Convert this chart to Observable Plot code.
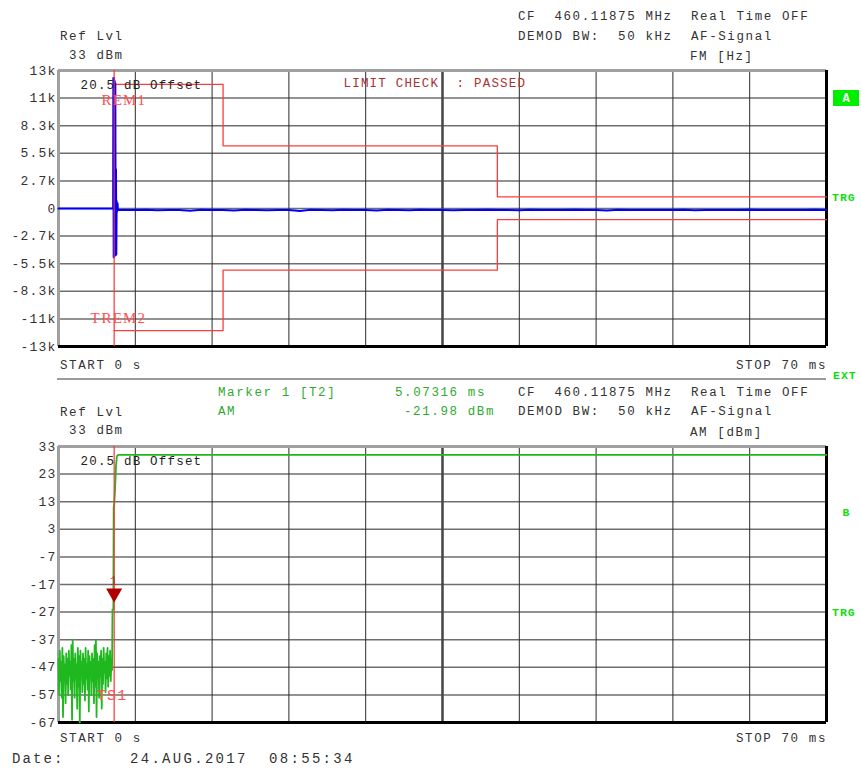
<!DOCTYPE html>
<html><head><meta charset="utf-8">
<script src="https://cdn.jsdelivr.net/npm/d3@7"></script>
<script src="https://cdn.jsdelivr.net/npm/@observablehq/plot@0.6"></script>
<style>
body{margin:0;background:#fff;}
#wrap{position:relative;width:861px;height:769px;overflow:hidden;background:#fff;}
#wrap svg{position:absolute;left:0;}
</style></head><body><div id="wrap"></div>
<script>
// ---------- data ----------
const timeDomain = [0, 70];                       // ms
const xGridTimes = [0, 7, 14, 21, 28, 35, 42, 49, 56, 63, 70];
const fmTickValues = [13000, 10400, 7800, 5200, 2600, 0, -2600, -5200, -7800, -10400, -13000];
const fmTickLabels = ["13k", "11k", "8.3k", "5.5k", "2.7k", "0", "-2.7k", "-5.5k", "-8.3k", "-11k", "-13k"];
const amTickValues = [33, 23, 13, 3, -7, -17, -27, -37, -47, -57, -67];
const amTickLabels = ["33", "23", "13", "3", "-7", "-17", "-27", "-37", "-47", "-57", "-67"];

// FM trace (Hz): burst around trigger, then near zero
const fmBurstTime  = [0, 4.98, 5.0, 5.03, 5.06, 5.09, 5.12, 5.15, 5.18, 5.21, 5.24, 5.27, 5.3, 5.34, 5.38, 5.42];
const fmBurstValue = [0, 0, 12300, -4600, 12300, -4500, 12000, -4400, 11800, -4400, 3700, -4300, 700, -300, 500, -150];
const fmTailValue = [-130,-150,-120,-170,-130,-140,-220,-120,-150,-130,-190,-120,-140,-160,-130,-140,-230,-120,-140,-160,
  -120,-150,-130,-180,-120,-140,-160,-120,-140,-130,-170,-130,-150,-120,-140,-130,-160,-120,-140,-130,
  -150,-120,-140,-130,-180,-120,-140,-130,-150,-130,-140,-120,-170,-130,-140,-130,-150,-120,-140,-130,
  -150,-130,-140,-120,-130];   // one sample per ms from 6 ms

// limit lines (Hz)
const upperLimitTime  = [5.07, 15, 15, 40, 40, 70];
const upperLimitValue = [11700, 11700, 5900, 5900, 1100, 1100];
const lowerLimitTime  = [5.07, 15, 15, 40, 40, 70];
const lowerLimitValue = [-11500, -11500, -5800, -5800, -1050, -1050];

// AM trace (dBm): noise before trigger, then carrier
const amNoiseValue = [-44,-57,-41,-52,-45,-58,-40,-65,-43,-51,
  -46,-60,-42,-53,-44,-57,-41,-50,-45,-55,
  -39,-66,-37,-52,-44,-58,-42,-50,-46,-62,
  -40,-54,-43,-67,-41,-49,-45,-56,-42,-53,
  -44,-59,-40,-51,-46,-55,-41,-63,-43,-50,
  -45,-57,-42,-52,-44,-60,-39,-54,-37,-65,
  -42,-51,-45,-58,-43,-50,-41,-62,-44,-53,
  -40,-49,-45,-56,-42,-51,-40,-54,-43,-50,
  -41,-52,-44,-48];
const amNoiseEnd = 4.88;
const amRiseTime  = [4.92, 5.0, 5.03, 5.08, 5.16, 5.24, 5.32, 5.45, 70];
const amRiseValue = [-26, -26, 11, 12, 18, 26, 29.5, 30, 30];

const markerTime = 5.07316;
const markerValue = -21.98;

// ---------- build ----------
const FONT = "'Liberation Mono', 'DejaVu Sans Mono', monospace";
const wrap = document.getElementById("wrap");
const W = 861, ML = 58, MR = 35, MT = 10, MB = 10;

const fmTrace = fmBurstTime.map((t, i) => ({t, v: fmBurstValue[i]}))
  .concat(fmTailValue.map((v, i) => ({t: 6 + i, v})));
const upLim = upperLimitTime.map((t, i) => ({t, v: upperLimitValue[i]}));
const loLim = lowerLimitTime.map((t, i) => ({t, v: lowerLimitValue[i]}));
const amTrace = amNoiseValue.map((v, i) => ({t: i * amNoiseEnd / (amNoiseValue.length - 1), v}))
  .concat(amRiseTime.map((t, i) => ({t, v: amRiseValue[i]})));

function frameMarks(yDom, ticks, labels) {
  return [
    Plot.ruleY(ticks, {stroke: "#6e6e6e", strokeWidth: 1.5}),
    Plot.ruleX(xGridTimes, {stroke: "#2a2a2a", strokeWidth: 1}),
    Plot.ruleX([35], {stroke: "#444", strokeWidth: 2.5}),
    Plot.ruleX([timeDomain[0]], {stroke: "#a0a0a0", strokeWidth: 3}),
    Plot.ruleY([yDom[1]], {stroke: "#a0a0a0", strokeWidth: 3}),
    Plot.ruleX([timeDomain[1]], {stroke: "#000", strokeWidth: 3}),
    Plot.ruleY([yDom[0]], {stroke: "#000", strokeWidth: 3}),
    Plot.axisY({ticks, tickFormat: d => labels[ticks.indexOf(d)], tickSize: 0, tickPadding: 2,
      label: null, fill: "#333", fontSize: 13})
  ];
}
const common = {
  width: W, marginLeft: ML, marginRight: MR, marginTop: MT, marginBottom: MB,
  style: {fontFamily: FONT, fontSize: "13px", letterSpacing: "1.2px", background: "transparent", overflow: "visible"},
  x: {domain: timeDomain, axis: null}
};
const inFrame = (txt, dx, dy, o = {}) => Plot.text([txt], {frameAnchor: "top-left", lineAnchor: "middle",
  textAnchor: "start", dx, dy, fontSize: 12.5, fill: "#222", ...o});
const SERIF = "'Liberation Serif', serif";

const upper = Plot.plot({
  ...common, height: 276 + MT + MB,
  y: {domain: [-13000, 13000], axis: null},
  marks: [
    ...frameMarks([-13000, 13000], fmTickValues, fmTickLabels),
    Plot.line(upLim, {x: "t", y: "v", stroke: "#ff3c3c", strokeWidth: 1.3}),
    Plot.line(loLim, {x: "t", y: "v", stroke: "#ff3c3c", strokeWidth: 1.3}),
    Plot.line(fmTrace, {x: "t", y: "v", stroke: "#0000ff", strokeWidth: 2}),
    Plot.ruleX([markerTime], {stroke: "#ff3030", strokeWidth: 1.2}),
    inFrame("20.5 dB Offset", 22, 14),
    inFrame("LIMIT CHECK  : PASSED", 285, 12, {fill: "#a83232"}),
    inFrame("REM1", 43, 30, {fill: "#ff5050", fontSize: 15, fontFamily: SERIF}),
    inFrame("T", 32, 248, {fill: "#ff5050", fontSize: 15, fontFamily: SERIF}),
    inFrame("REM2", 43, 248, {fill: "#ff5050", fontSize: 15, fontFamily: SERIF})
  ]
});
upper.style.top = (70 - MT) + "px";
wrap.appendChild(upper);

const lower = Plot.plot({
  ...common, height: 276 + MT + MB,
  y: {domain: [-67, 33], axis: null},
  marks: [
    ...frameMarks([-67, 33], amTickValues, amTickLabels),
    Plot.line(amTrace, {x: "t", y: "v", stroke: "#1fb81f", strokeWidth: 1.8}),
    Plot.ruleX([markerTime], {stroke: "#ff3030", strokeWidth: 1.2}),
    Plot.dot([{t: markerTime, v: markerValue}], {x: "t", y: "v", symbol: "triangle", rotate: 180, r: 5, fill: "#b00000", stroke: "#b00000", dy: -5}),
    Plot.text(["1"], {x: () => markerTime, y: () => markerValue, dy: -17, fill: "#c03030", fontSize: 12}),
    Plot.text(["TS1"], {x: () => markerTime, y: () => -57, dx: -2, fill: "#ff5050", fontSize: 15}),
    inFrame("20.5 dB Offset", 22, 14)
  ]
});
lower.style.top = (446 - MT) + "px";
wrap.appendChild(lower);

// ---------- annotation overlay ----------
const ov = d3.select(wrap).append("svg").attr("width", W).attr("height", 769).style("top", "0px")
  .style("font-family", FONT);
function label(txt, x, y, o = {}) {
  ov.append("text").attr("x", x).attr("y", y + (o.size || 12.5) * 0.33)
    .attr("text-anchor", o.anchor || "start")
    .attr("font-size", o.size || 12.5)
    .attr("letter-spacing", o.ls != null ? o.ls : 1.6)
    .attr("font-weight", o.bold ? "bold" : null)
    .attr("fill", o.fill || "#333")
    .style("white-space", "pre")
    .text(txt);
}
label("Ref Lvl", 60, 36);
label(" 33 dBm", 60, 55);
label("CF  460.11875 MHz  Real Time OFF", 518, 16);
label("DEMOD BW:  50 kHz  AF-Signal", 518, 36);
label("FM [Hz]", 690, 56);
label("START 0 s", 60, 365);
label("STOP 70 ms", 827, 365, {anchor: "end"});
ov.append("line").attr("x1", 57).attr("x2", 826).attr("y1", 379).attr("y2", 379).attr("stroke", "#9a9a9a").attr("stroke-width", 2);
const G = "#2faa2f";
label("Marker 1 [T2]", 218, 392, {fill: G});
label("5.07316 ms", 395, 392, {fill: G});
label("AM", 218, 411, {fill: G});
label("-21.98 dBm", 495, 411, {fill: G, anchor: "end"});
label("CF  460.11875 MHz  Real Time OFF", 518, 392);
label("DEMOD BW:  50 kHz  AF-Signal", 518, 411);
label("AM [dBm]", 690, 432);
label("Ref Lvl", 60, 412);
label(" 33 dBm", 60, 430);
label("START 0 s", 60, 738);
label("STOP 70 ms", 827, 738, {anchor: "end"});
label("Date:", 12, 758, {size: 14, ls: 2.1});
label("24.AUG.2017  08:55:34", 130, 758, {size: 14, ls: 2.3});

// side badges
ov.append("rect").attr("x", 833).attr("y", 90).attr("width", 26).attr("height", 16).attr("fill", "#00ee00");
label("A", 846, 98, {anchor: "middle", fill: "#fff", bold: true, size: 12, ls: 0});
const BG = "#11dd11";
label("TRG", 832, 197, {fill: BG, bold: true, size: 11.5, ls: 1});
label("EXT", 833, 375, {fill: BG, bold: true, size: 11.5, ls: 1});
label("B", 846, 512, {anchor: "middle", fill: BG, bold: true, size: 11.5, ls: 0});
label("TRG", 832, 612, {fill: BG, bold: true, size: 11.5, ls: 1});
</script></body></html>
